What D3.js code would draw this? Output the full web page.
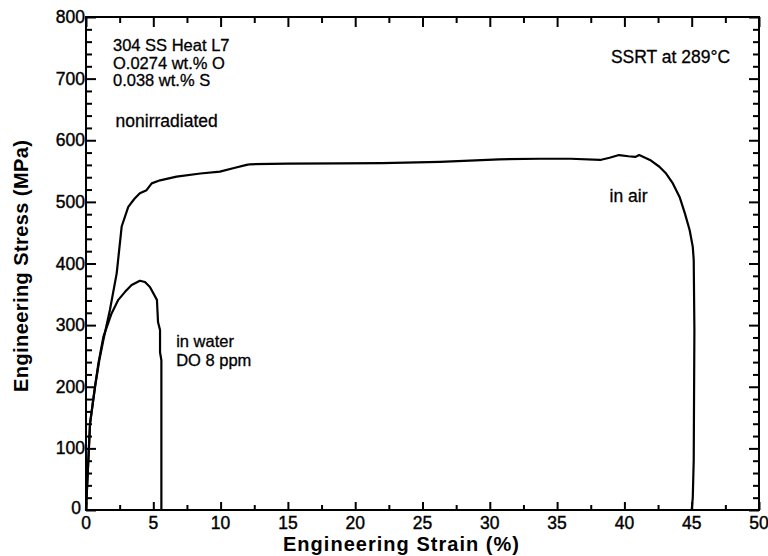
<!DOCTYPE html>
<html><head><meta charset="utf-8">
<script src="https://cdn.jsdelivr.net/npm/d3@7"></script>
<style>body{margin:0;background:#fff}text{font-family:"Liberation Sans",Arial,Helvetica,sans-serif;fill:#000}</style>
</head><body><svg id="c" width="768" height="556"></svg>
<script>
// ---- data ----
const airStrain = [0, 0.3, 0.67, 0.99, 1.29, 1.78, 2.28, 2.65, 3.14, 3.6, 4.0, 4.5, 4.88, 5.5, 6.73, 8.5, 9.95, 11.0, 11.93, 12.2, 15, 18.9, 22, 26.3, 30.7, 33.7, 36, 38.2, 38.9, 39.6, 40.3, 40.8, 41.1, 41.9, 42.6, 43.1, 43.6, 44.1, 44.5, 44.85, 45.08, 45.15, 45.2, 45.15, 45.08, 45.0];
const airStress = [0, 140, 200, 243, 276, 325, 384, 460, 492, 505, 514, 519, 530, 535, 541, 546, 549, 555, 560, 561, 562, 562.5, 563, 565, 569, 570, 570, 568, 571.6, 576, 574, 573, 576, 568, 557, 546, 530, 508, 481, 454, 427, 406, 292, 81, 20, 0];
const waterStrain = [0, 0.3, 0.67, 0.92, 1.29, 1.9, 2.4, 2.9, 3.39, 4.0, 4.38, 4.75, 5.27, 5.35, 5.5, 5.5, 5.6, 5.6];
const waterStress = [0, 140, 200, 238, 281, 319, 341, 354, 365, 372, 370, 362, 341, 305, 292, 256, 243, 0];
const xTickLabels = [0, 5, 10, 15, 20, 25, 30, 35, 40, 45, 50];
const yTickLabels = [0, 100, 200, 300, 400, 500, 600, 700, 800];
const infoLines = ["304 SS Heat L7", "O.0274 wt.% O", "0.038 wt.% S"];
const noteTexts = ["nonirradiated", "SSRT at 289°C", "in air", "in water", "DO 8 ppm"];

// ---- layout ----
const svg = d3.select("#c");
const x = d3.scaleLinear().domain([0, 50]).range([86, 759]);
const y = d3.scaleLinear().domain([0, 800]).range([510, 17]);
const fs = 17.5;
// annotation anchor points (data coordinates) and font sizes
const notePos = [[2.2, 622, 17.5], [39.0, 725, 17.5], [38.9, 500, 17.5], [6.7, 265, 16.5], [6.7, 234, 16.5]];

// frame
svg.append("rect").attr("x", x(0)).attr("y", y(800)).attr("width", x(50) - x(0)).attr("height", y(0) - y(800))
  .attr("fill", "none").attr("stroke", "#000").attr("stroke-width", 2);

// axes with inward ticks
const xMinor = d3.range(0, 50.01, 2.5);
const yMinor = d3.range(0, 800.01, 20);
function tickLen(v, major, big, small) { return (Math.abs(v / major - Math.round(v / major)) < 1e-6) ? big : small; }

const gBottom = svg.append("g").attr("transform", `translate(0,${y(0)})`)
  .call(d3.axisBottom(x).tickValues(xMinor).tickSizeInner(0).tickSizeOuter(0).tickFormat(""));
gBottom.select(".domain").remove();
gBottom.selectAll(".tick line").attr("y2", d => -tickLen(d, 5, 8, 5)).attr("stroke-width", 2);

const gTop = svg.append("g").attr("transform", `translate(0,${y(800)})`)
  .call(d3.axisTop(x).tickValues(xMinor).tickSizeInner(0).tickSizeOuter(0).tickFormat(""));
gTop.select(".domain").remove();
gTop.selectAll(".tick line").attr("y2", d => tickLen(d, 5, 10, 6)).attr("stroke-width", 2);

const gLeft = svg.append("g").attr("transform", `translate(${x(0)},0)`)
  .call(d3.axisLeft(y).tickValues(yMinor).tickSizeInner(0).tickSizeOuter(0).tickFormat(""));
gLeft.select(".domain").remove();
gLeft.selectAll(".tick line").attr("x2", d => tickLen(d, 100, 10, 6)).attr("stroke-width", 2);

const gRight = svg.append("g").attr("transform", `translate(${x(50)},0)`)
  .call(d3.axisRight(y).tickValues(yMinor).tickSizeInner(0).tickSizeOuter(0).tickFormat(""));
gRight.select(".domain").remove();
gRight.selectAll(".tick line").attr("x2", d => -tickLen(d, 100, 10, 6)).attr("stroke-width", 2);

// tick labels
svg.append("g").selectAll("text").data(xTickLabels).join("text")
  .attr("x", d => x(d)).attr("y", 529).attr("text-anchor", "middle").attr("font-size", fs)
  .attr("stroke", "#000").attr("stroke-width", 0.4).text(d => d);
svg.append("g").selectAll("text").data(yTickLabels).join("text")
  .attr("x", d => d === 0 ? x(0) - 5 : x(0) - 1).attr("y", d => y(d) + (d === 0 ? 4 : 6))
  .attr("text-anchor", "end").attr("font-size", fs)
  .attr("stroke", "#000").attr("stroke-width", 0.4).text(d => d);

// axis titles
svg.append("text").attr("x", 401).attr("y", 551).attr("text-anchor", "middle")
  .attr("font-size", 20).attr("font-weight", "bold").attr("textLength", 236).attr("lengthAdjust", "spacing")
  .text("Engineering Strain (%)");
svg.append("text").attr("transform", "translate(28,266) rotate(-90)").attr("text-anchor", "middle")
  .attr("font-size", 20).attr("font-weight", "bold").attr("textLength", 252).attr("lengthAdjust", "spacing")
  .text("Engineering Stress (MPa)");

// curves
const line = d3.line().x(d => x(d[0])).y(d => y(d[1]));
svg.append("path").datum(airStrain.map((s, i) => [s, airStress[i]]))
  .attr("d", line).attr("fill", "none").attr("stroke", "#000").attr("stroke-width", 2.2).attr("stroke-linejoin", "round");
svg.append("path").datum(waterStrain.map((s, i) => [s, waterStress[i]]))
  .attr("d", line).attr("fill", "none").attr("stroke", "#000").attr("stroke-width", 2.2).attr("stroke-linejoin", "round");

// annotations
svg.append("g").selectAll("text").data(infoLines).join("text")
  .attr("x", 113).attr("y", (d, i) => 51 + i * 17.5).attr("font-size", 16.5)
  .attr("stroke", "#000").attr("stroke-width", 0.3).text(d => d);
svg.append("g").selectAll("text").data(noteTexts).join("text")
  .attr("x", (d, i) => x(notePos[i][0])).attr("y", (d, i) => y(notePos[i][1])).attr("font-size", (d, i) => notePos[i][2])
  .attr("stroke", "#000").attr("stroke-width", 0.3).text(d => d);
</script></body></html>
